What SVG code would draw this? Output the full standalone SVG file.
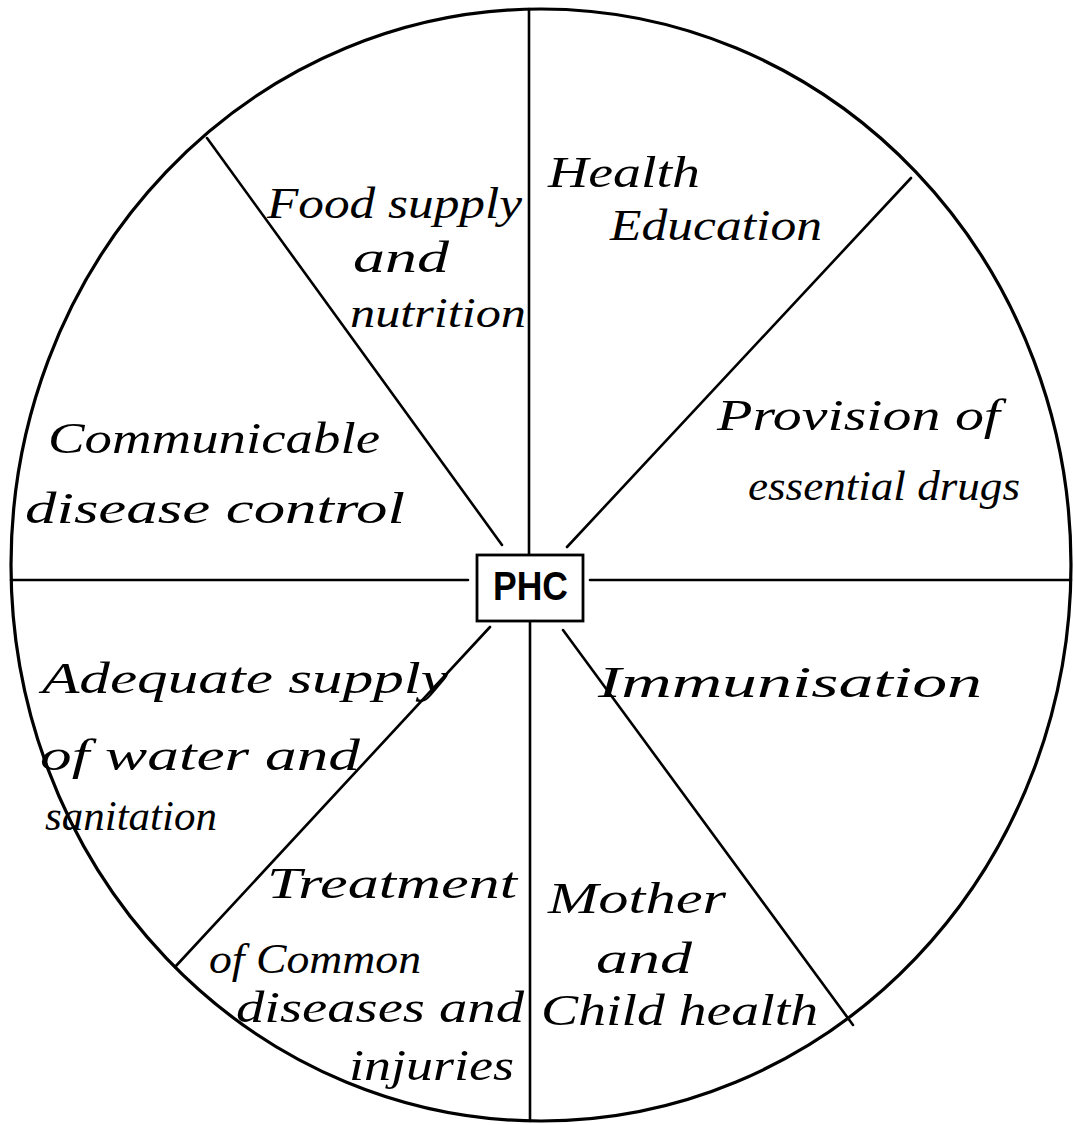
<svg xmlns="http://www.w3.org/2000/svg" width="1074" height="1125" viewBox="0 0 1074 1125">
  <style>
    .rim { fill: none; stroke: #000; stroke-width: 3.2; }
    .div { fill: none; stroke: #000; stroke-width: 2.6; stroke-linecap: round; }
    .box { fill: #fff; stroke: #000; stroke-width: 2.8; }
    .hand { font-family: "Liberation Serif", "DejaVu Serif", serif; font-style: italic; font-size: 44px; fill: #000; }
    .tight { font-size: 42px; }
    .core { font-family: "Liberation Sans", Arial, sans-serif; font-size: 40px; fill: #000; font-weight: bold; }
  </style>
  <rect width="1074" height="1125" fill="#fff"/>

  <!-- outer wheel -->
  <ellipse class="rim" cx="541" cy="565" rx="530" ry="556"/>

  <!-- spokes dividing the wheel into eight sectors -->
  <g id="connectors">
    <line class="div" x1="529" y1="9" x2="529" y2="555"/>
    <line class="div" x1="530" y1="621" x2="530" y2="1121"/>
    <line class="div" x1="11" y1="580" x2="468" y2="580"/>
    <line class="div" x1="590" y1="580" x2="1071" y2="580"/>
    <line class="div" x1="207" y1="138" x2="502" y2="545"/>
    <line class="div" x1="911" y1="178" x2="567" y2="547"/>
    <line class="div" x1="490" y1="627" x2="175" y2="967"/>
    <line class="div" x1="563" y1="630" x2="853" y2="1025"/>
  </g>

  <!-- hub -->
  <g id="phc">
    <rect class="box" x="477" y="555" width="106" height="66"/>
    <text class="core" x="493" y="600" textLength="75" lengthAdjust="spacingAndGlyphs">PHC</text>
  </g>

  <g id="food-supply">
    <text class="hand" x="267" y="218" textLength="255" lengthAdjust="spacingAndGlyphs">Food supply</text>
    <text class="hand" x="353" y="272" textLength="96" lengthAdjust="spacingAndGlyphs">and</text>
    <text class="hand tight" x="350" y="327" textLength="176" lengthAdjust="spacingAndGlyphs">nutrition</text>
  </g>

  <g id="health-education">
    <text class="hand" x="548" y="187" textLength="152" lengthAdjust="spacingAndGlyphs">Health</text>
    <text class="hand" x="610" y="240" textLength="212" lengthAdjust="spacingAndGlyphs">Education</text>
  </g>

  <g id="essential-drugs">
    <text class="hand" x="717" y="430" textLength="283" lengthAdjust="spacingAndGlyphs">Provision of</text>
    <text class="hand tight" x="748" y="500" textLength="272" lengthAdjust="spacingAndGlyphs">essential drugs</text>
  </g>

  <g id="communicable-disease">
    <text class="hand" x="48" y="453" textLength="332" lengthAdjust="spacingAndGlyphs">Communicable</text>
    <text class="hand" x="25" y="523" textLength="380" lengthAdjust="spacingAndGlyphs">disease control</text>
  </g>

  <g id="immunisation">
    <text class="hand" x="598" y="697" textLength="384" lengthAdjust="spacingAndGlyphs">Immunisation</text>
  </g>

  <g id="water-sanitation">
    <text class="hand" x="42" y="693" textLength="406" lengthAdjust="spacingAndGlyphs">Adequate supply</text>
    <text class="hand" x="40" y="770" textLength="320" lengthAdjust="spacingAndGlyphs">of water and</text>
    <text class="hand tight" x="45" y="830" textLength="172" lengthAdjust="spacingAndGlyphs">sanitation</text>
  </g>

  <g id="common-diseases">
    <text class="hand" x="267" y="898" textLength="250" lengthAdjust="spacingAndGlyphs">Treatment</text>
    <text class="hand tight" x="209" y="973" textLength="212" lengthAdjust="spacingAndGlyphs">of Common</text>
    <text class="hand" x="236" y="1022" textLength="288" lengthAdjust="spacingAndGlyphs">diseases and</text>
    <text class="hand" x="349" y="1080" textLength="165" lengthAdjust="spacingAndGlyphs">injuries</text>
  </g>

  <g id="mother-child">
    <text class="hand" x="548" y="913" textLength="178" lengthAdjust="spacingAndGlyphs">Mother</text>
    <text class="hand" x="596" y="973" textLength="96" lengthAdjust="spacingAndGlyphs">and</text>
    <text class="hand" x="541" y="1025" textLength="277" lengthAdjust="spacingAndGlyphs">Child health</text>
  </g>
</svg>
